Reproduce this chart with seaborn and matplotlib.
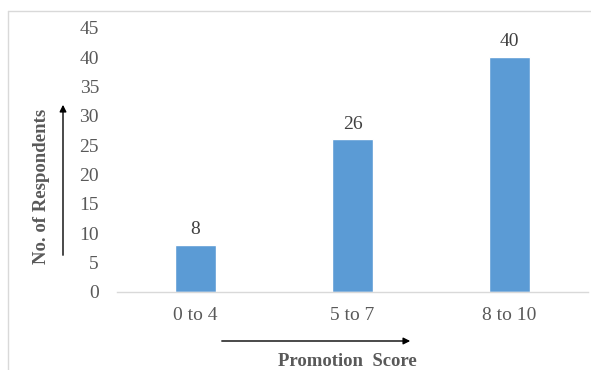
import matplotlib
matplotlib.use("Agg")
import matplotlib.pyplot as plt
import seaborn as sns
import pandas as pd
from matplotlib.patches import FancyArrowPatch
from matplotlib.lines import Line2D

categories = ["0 to 4", "5 to 7", "8 to 10"]
values = [8, 26, 40]
yticks = [0, 5, 10, 15, 20, 25, 30, 35, 40, 45]

sns.set_theme(style="white")
plt.rcParams['font.family'] = ['Liberation Serif', 'DejaVu Serif']

W, H = 591, 370
fig = plt.figure(figsize=(W / 100, H / 100), dpi=100)
# axes: x 117..588, y 28..292 (pixels)
ax = fig.add_axes([117 / W, 1 - 292 / H, (588 - 117) / W, (292 - 28) / H])

df = pd.DataFrame({"cat": categories, "val": values})
sns.barplot(data=df, x="cat", y="val", ax=ax, color="#5B9BD5", saturation=1, width=0.26)

FS = 14
ax.set_ylim(0, 45)
ax.set_xlim(-0.5, 2.5)
ax.set_yticks(yticks)
ax.set_yticklabels([str(t) for t in yticks])
ax.set_xlabel("")
ax.set_ylabel("")
txtc = "#595959"
ax.tick_params(axis="y", labelsize=FS, colors=txtc, length=0, pad=13)
ax.tick_params(axis="x", labelsize=FS, colors=txtc, length=0, pad=11)
for s in ["top", "right", "left"]:
    ax.spines[s].set_visible(False)
ax.spines["bottom"].set_color("#D9D9D9")
ax.spines["bottom"].set_linewidth(1)

for i, v in enumerate(values):
    ax.annotate(str(v), (i, v), xytext=(0, 5), textcoords="offset points",
                ha="center", va="bottom", fontsize=FS, color="#404040")

# outer border (top and left visible)
fig.add_artist(Line2D([8 / W, 1.0], [1 - 11 / H, 1 - 11 / H], transform=fig.transFigure,
                      color="#D9D9D9", lw=1))
fig.add_artist(Line2D([8 / W, 8 / W], [0, 1 - 11 / H], transform=fig.transFigure,
                      color="#D9D9D9", lw=1))

# y label with arrow
fig.text(42 / W, 1 - 186 / H, "No. of Respondents", rotation=90, ha="center", va="center",
         fontsize=13.5, fontweight="bold", color=txtc)
fig.add_artist(FancyArrowPatch((63 / W, 1 - 258 / H), (63 / W, 1 - 102 / H),
                               transform=fig.transFigure, arrowstyle="-|>",
                               mutation_scale=10, color="black", lw=1))

# x label with arrow
fig.text(347 / W, 1 - 362 / H, "Promotion  Score", ha="center", va="center",
         fontsize=13.5, fontweight="bold", color=txtc)
fig.add_artist(FancyArrowPatch((219 / W, 1 - 341 / H), (413 / W, 1 - 341 / H),
                               transform=fig.transFigure, arrowstyle="-|>",
                               mutation_scale=10, color="black", lw=1))

fig.savefig("out.png", dpi=100)
